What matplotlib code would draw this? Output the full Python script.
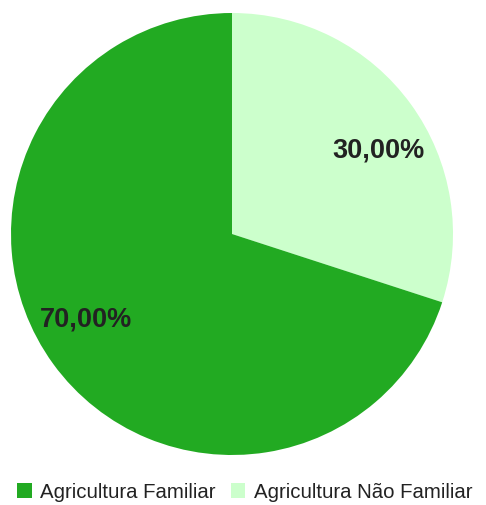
import numpy as np
import matplotlib.pyplot as plt
from matplotlib.patches import Patch

# Dados do gráfico
categorias = ['Agricultura Familiar', 'Agricultura Não Familiar']
valores = [70.0, 30.0]
cores = ['#22aa22', '#ccffcc']

plt.rcParams['font.family'] = ['Liberation Sans', 'DejaVu Sans']

fig = plt.figure(figsize=(4.86, 5.06), dpi=100)
ax = fig.add_axes([11 / 486, 50 / 506, 442 / 486, 442 / 506])

# 30% começa no topo e vai no sentido horário
wedges, texts, autotexts = ax.pie(
    valores[::-1], colors=cores[::-1], startangle=90, counterclock=False,
    autopct=lambda p: f'{p:.2f}%'.replace('.', ','), pctdistance=0.77,
    textprops={'fontsize': 19.5, 'fontweight': 'bold', 'color': '#222222'},
    wedgeprops={'linewidth': 0},
)
# rótulos um pouco mais perto da horizontal, como no gráfico original
for w, t in zip(wedges, autotexts):
    ang = np.deg2rad((w.theta1 + w.theta2) / 2 - 6)
    t.set_position((0.765 * np.cos(ang), 0.765 * np.sin(ang)))

ax.set_xlim(-1, 1)
ax.set_ylim(-1, 1)
ax.set_aspect('equal')

handles = [Patch(facecolor=c, edgecolor='none') for c in cores]
fig.legend(handles, categorias, loc='center left', bbox_to_anchor=(17 / 486, 13 / 506),
           ncol=2, frameon=False, fontsize=14.7, handlelength=0.72, handleheight=0.72,
           handletextpad=0.4, columnspacing=0.75, labelcolor='#222222',
           borderaxespad=0, borderpad=0)

fig.savefig('out.png', dpi=100)
